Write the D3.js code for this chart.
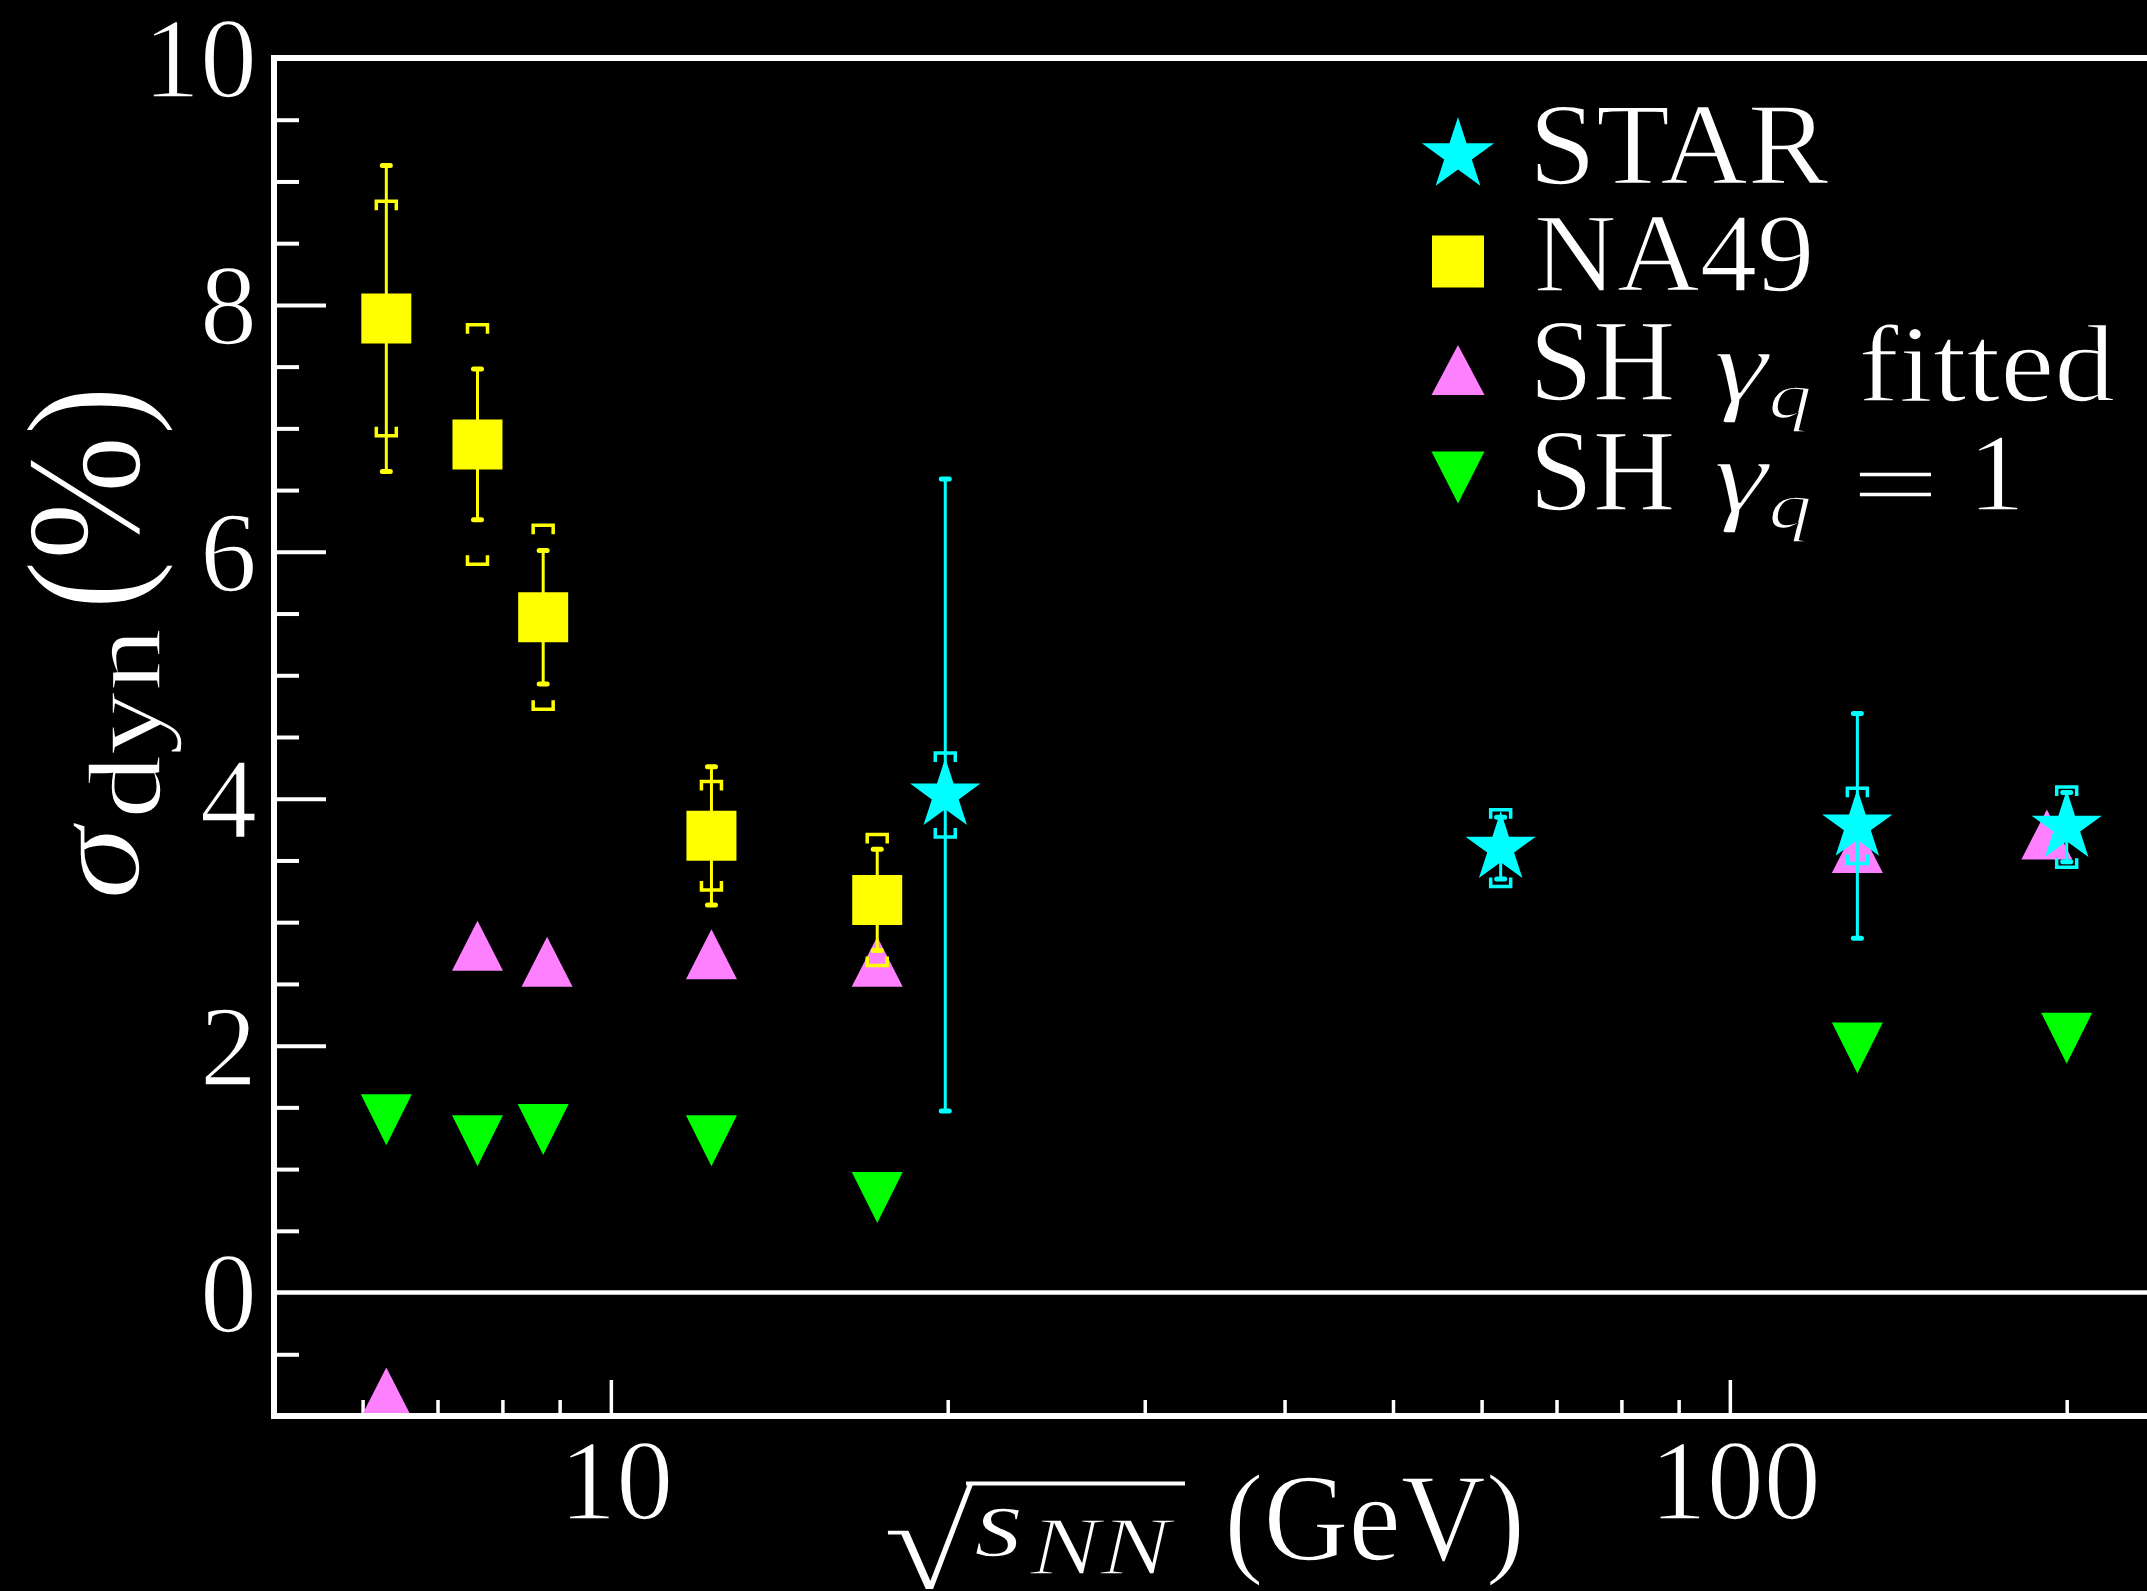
<!DOCTYPE html>
<html><head><meta charset="utf-8">
<script src="https://cdn.jsdelivr.net/npm/d3@7"></script>
<style>html,body{margin:0;padding:0;background:#000;overflow:hidden}</style>
</head><body><svg id="chart" width="2147" height="1591"></svg>
<script>
// ---- data ----
const na49Energy = [6.3, 7.6, 8.7, 12.3, 17.3];
const na49Value  = [7.89, 6.87, 5.47, 3.70, 3.18];
const na49Stat   = [1.24, 0.61, 0.54, 0.56, 0.41];
const na49Sys    = [0.95, 0.97, 0.745, 0.44, 0.53];

const starEnergy = [19.9, 62.4, 130, 200];
const starValue  = [4.03, 3.60, 3.78, 3.77];
const starStat   = [2.56, 0.25, 0.91, 0.28];
const starSys    = [0.34, 0.31, 0.305, 0.325];

const shFitEnergy = [6.3, 7.6, 8.77, 12.3, 17.3, 130, 192];
const shFitValue  = [-0.81, 2.81, 2.68, 2.74, 2.68, 3.60, 3.71];

const shOneEnergy = [6.3, 7.6, 8.7, 12.3, 17.3, 130, 200];
const shOneValue  = [1.40, 1.23, 1.32, 1.23, 0.77, 1.98, 2.06];

const xMajorTicks = [10, 100];
const xMinorTicks = [6, 7, 8, 9, 20, 30, 40, 50, 60, 70, 80, 90, 200];
const yLabelTicks = [0, 2, 4, 6, 8, 10];
const yMajorTicks = [2, 4, 6, 8];
const yMinorTicks = [-0.5, 0.5, 1, 1.5, 2.5, 3, 3.5, 4.5, 5, 5.5, 6.5, 7, 7.5, 8.5, 9, 9.5];

const legendNames = ["STAR", "NA49"];

// ---- setup ----
const W = 2147, H = 1591;
const FONT = '"Liberation Serif", "Times New Roman", serif';
const svg = d3.select('#chart');
svg.append('rect').attr('width', W).attr('height', H).attr('fill', '#000');

const pLeft = 274, pTop = 58, pBottom = 1416;
const decade = 1119;
const x = d3.scaleLog().domain([5, 250]).range([pLeft, pLeft + decade * Math.log10(50)]);
const y = d3.scaleLinear().domain([-1, 10]).range([pBottom, pTop]);
const pRight = x.range()[1];

const COL = {star: '#00ffff', na49: '#ffff00', fit: '#ff80ff', one: '#00ff00'};
const THIN = 1.6; // black outline that thins the glyph strokes

// ink-fitting text helper
const ctx = document.createElement('canvas').getContext('2d');
function fitText(parent, str, box, italic) {
  ctx.font = (italic ? 'italic ' : '') + '100px ' + FONT;
  const m = ctx.measureText(str);
  const inkL = -m.actualBoundingBoxLeft, inkR = m.actualBoundingBoxRight;
  const asc = m.actualBoundingBoxAscent, desc = m.actualBoundingBoxDescent;
  const size = 100 * (box.y1 - box.y0) / (asc + desc);
  const k = size / 100;
  const sx = (box.x1 - box.x0) / ((inkR - inkL) * k);
  const base = box.y0 + asc * k;
  const tx = box.x0 - sx * inkL * k;
  return parent.append('text')
    .attr('transform', `translate(${tx},${base}) scale(${sx},1)`)
    .attr('font-family', FONT)
    .attr('font-style', italic ? 'italic' : 'normal')
    .attr('font-size', size.toFixed(2))
    .attr('fill', '#fff')
    .attr('stroke', '#000').attr('stroke-width', THIN)
    .text(str);
}

// ---- axes ticks ----
function styleAxis(s, width) {
  s.select('.domain').remove();
  s.attr('color', '#fff');
  s.selectAll('line').attr('stroke-width', width);
}
svg.append('g').attr('transform', `translate(${pLeft},0)`)
  .call(d3.axisLeft(y).tickValues(yMajorTicks).tickSize(-52).tickFormat(''))
  .call(s => styleAxis(s, 4));
svg.append('g').attr('transform', `translate(${pLeft},0)`)
  .call(d3.axisLeft(y).tickValues(yMinorTicks).tickSize(-25).tickFormat(''))
  .call(s => styleAxis(s, 4));
svg.append('g').attr('transform', `translate(0,${pBottom})`)
  .call(d3.axisBottom(x).tickValues(xMajorTicks).tickSize(-36).tickFormat(''))
  .call(s => styleAxis(s, 3.5));
svg.append('g').attr('transform', `translate(0,${pBottom})`)
  .call(d3.axisBottom(x).tickValues(xMinorTicks).tickSize(-16).tickFormat(''))
  .call(s => styleAxis(s, 3.5));

// tick labels
svg.append('g').attr('transform', `translate(${pLeft},0)`)
  .call(d3.axisLeft(y).tickValues(yLabelTicks).tickSize(0).tickPadding(17).tickFormat(d3.format('d')))
  .call(s => {
    s.select('.domain').remove();
    s.selectAll('text').attr('font-family', FONT).attr('font-size', 114)
      .attr('fill', '#fff').attr('stroke', '#000').attr('stroke-width', THIN).attr('dy', '0.34em');
  });
svg.append('g').attr('transform', `translate(0,${pBottom})`)
  .call(d3.axisBottom(x).tickValues(xMajorTicks).tickSize(0).tickFormat(d3.format('d')))
  .call(s => {
    s.select('.domain').remove();
    s.selectAll('text').attr('font-family', FONT).attr('font-size', 114)
      .attr('fill', '#fff').attr('stroke', '#000').attr('stroke-width', THIN)
      .attr('y', 103).attr('dy', 0).attr('dx', 5);
  });

// zero line
svg.append('line').attr('x1', pLeft).attr('x2', pRight).attr('y1', y(0)).attr('y2', y(0))
  .attr('stroke', '#fff').attr('stroke-width', 4.5);

// ---- markers ----
function triPath(up, w, h) {
  return up ? `M0,${-h/2}L${w/2},${h/2}L${-w/2},${h/2}Z`
            : `M0,${h/2}L${w/2},${-h/2}L${-w/2},${-h/2}Z`;
}
const plot = svg.append('g');

plot.selectAll('.fit').data(shFitEnergy).join('path')
  .attr('d', triPath(true, 51, 50))
  .attr('transform', (d, i) => `translate(${x(d)},${y(shFitValue[i])})`)
  .attr('fill', COL.fit);
plot.selectAll('.one').data(shOneEnergy).join('path')
  .attr('d', triPath(false, 51, 51))
  .attr('transform', (d, i) => `translate(${x(d)},${y(shOneValue[i])})`)
  .attr('fill', COL.one);

function errorBars(g, energies, values, stat, sys, color) {
  energies.forEach((e, i) => {
    const cx = x(e), v = values[i];
    const hi = y(v + stat[i]), lo = y(v - stat[i]);
    g.append('line').attr('x1', cx).attr('x2', cx).attr('y1', hi).attr('y2', lo)
      .attr('stroke', color).attr('stroke-width', 3);
    [hi, lo].forEach(yy => g.append('line')
      .attr('x1', cx - 4).attr('x2', cx + 4).attr('y1', yy).attr('y2', yy)
      .attr('stroke', color).attr('stroke-width', 5).attr('stroke-linecap', 'round'));
    const sh = y(v + sys[i]), sl = y(v - sys[i]);
    g.append('path').attr('d', `M${cx-10},${sh+9}V${sh}H${cx+10}V${sh+9}`)
      .attr('fill', 'none').attr('stroke', color).attr('stroke-width', 3.5);
    g.append('path').attr('d', `M${cx-10},${sl-9}V${sl}H${cx+10}V${sl-9}`)
      .attr('fill', 'none').attr('stroke', color).attr('stroke-width', 3.5);
  });
}
errorBars(plot, na49Energy, na49Value, na49Stat, na49Sys, COL.na49);
plot.selectAll('.na49').data(na49Energy).join('path')
  .attr('d', d3.symbol(d3.symbolSquare, 2500)())
  .attr('transform', (d, i) => `translate(${x(d)},${y(na49Value[i])})`)
  .attr('fill', COL.na49);

errorBars(plot, starEnergy, starValue, starStat, starSys, COL.star);
plot.selectAll('.star').data(starEnergy).join('path')
  .attr('d', d3.symbol(d3.symbolStar, 1537)())
  .attr('transform', (d, i) => `translate(${x(d)},${y(starValue[i])})`)
  .attr('fill', COL.star);

// frame on top
svg.append('rect').attr('x', pLeft).attr('y', pTop).attr('width', pRight - pLeft).attr('height', pBottom - pTop)
  .attr('fill', 'none').attr('stroke', '#fff').attr('stroke-width', 6);

// ---- legend ----
const lg = svg.append('g');
lg.append('path').attr('d', d3.symbol(d3.symbolStar, 1621)()).attr('transform', 'translate(1458,155)').attr('fill', COL.star);
lg.append('path').attr('d', d3.symbol(d3.symbolSquare, 2704)()).attr('transform', 'translate(1458,261.5)').attr('fill', COL.na49);
lg.append('path').attr('d', triPath(true, 53, 50)).attr('transform', 'translate(1458,370)').attr('fill', COL.fit);
lg.append('path').attr('d', triPath(false, 53, 52)).attr('transform', 'translate(1458,477.5)').attr('fill', COL.one);

fitText(lg, legendNames[0], {x0: 1536, x1: 1829, y0: 107, y1: 186});
fitText(lg, legendNames[1], {x0: 1536, x1: 1810, y0: 217, y1: 293});
fitText(lg, 'SH', {x0: 1536, x1: 1673, y0: 323, y1: 402});
fitText(lg, 'γ', {x0: 1715, x1: 1771, y0: 353, y1: 423}, true);
fitText(lg, 'q', {x0: 1771, x1: 1810, y0: 388, y1: 432}, true);
fitText(lg, 'fitted', {x0: 1862, x1: 2114, y0: 323, y1: 402});
fitText(lg, 'SH', {x0: 1536, x1: 1673, y0: 433, y1: 512});
fitText(lg, 'γ', {x0: 1715, x1: 1771, y0: 463, y1: 533}, true);
fitText(lg, 'q', {x0: 1771, x1: 1810, y0: 498, y1: 542}, true);
fitText(lg, '=', {x0: 1857, x1: 1933, y0: 472, y1: 497});
fitText(lg, '1', {x0: 1977, x1: 2018, y0: 438, y1: 510});

// ---- axis titles ----
const xl = svg.append('g');
fitText(xl, '√', {x0: 886, x1: 975, y0: 1481, y1: 1590});
xl.append('line').attr('x1', 966).attr('x2', 1185).attr('y1', 1483.5).attr('y2', 1483.5)
  .attr('stroke', '#fff').attr('stroke-width', 4);
fitText(xl, 's', {x0: 975, x1: 1020, y0: 1508, y1: 1557}, true);
fitText(xl, 'NN', {x0: 1029, x1: 1176, y0: 1520, y1: 1575}, true);
fitText(xl, '(GeV)', {x0: 1229, x1: 1520, y0: 1473, y1: 1587});

const yl = svg.append('g').attr('transform', 'rotate(-90)');
fitText(yl, 'σ', {x0: -897, x1: -821, y0: 73, y1: 140}, true);
fitText(yl, 'dyn', {x0: -815, x1: -629, y0: 88, y1: 182});
fitText(yl, '(%)', {x0: -604, x1: -392, y0: 25, y1: 175});
</script>
</body></html>
